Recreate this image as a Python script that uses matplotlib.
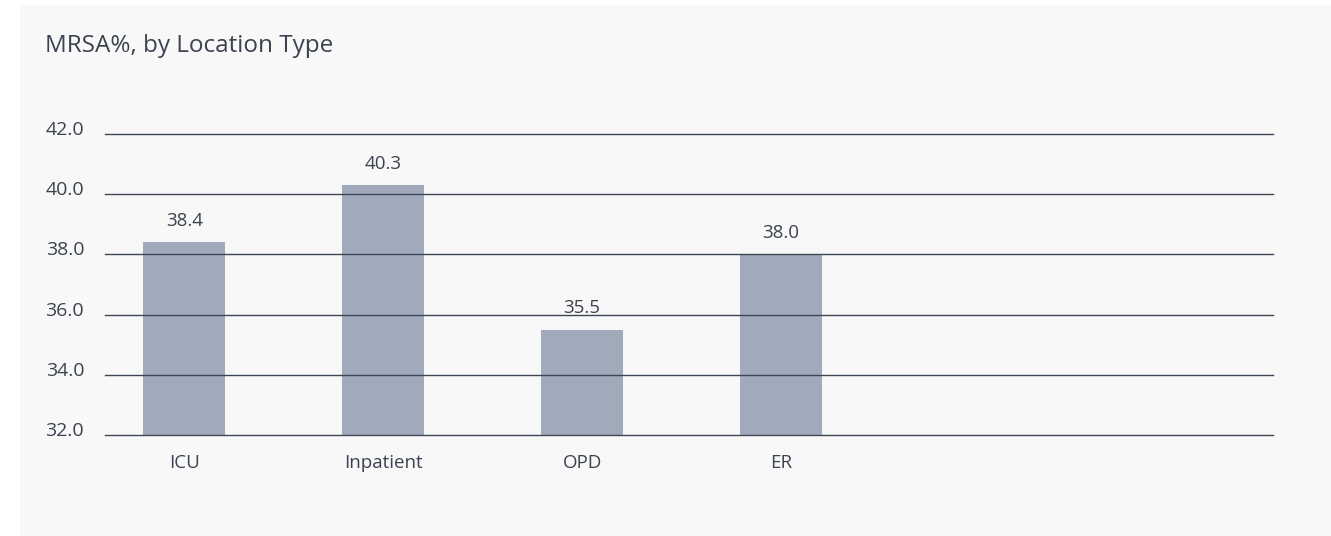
import matplotlib
matplotlib.use("Agg")
import matplotlib.pyplot as plt
from matplotlib.transforms import ScaledTranslation

categories = ["ICU", "Inpatient", "OPD", "ER"]
values = [38.4, 40.3, 35.5, 38.0]
yticks = [32.0, 34.0, 36.0, 38.0, 40.0, 42.0]

W, H = 1331, 536
plt.rcParams["font.family"] = ["Open Sans", "DejaVu Sans"]
fig = plt.figure(figsize=(W / 100, H / 100), dpi=100)
fig.patch.set_facecolor("white")

bg = fig.add_axes([20 / W, 0, 1 - 20 / W, 1 - 5 / H], zorder=0)
bg.set_facecolor("#f8f8f8")
bg.set_xticks([])
bg.set_yticks([])
for s in bg.spines.values():
    s.set_visible(False)

text_color = "#3b4350"
grid_color = "#3d4655"

ax = fig.add_axes([105 / W, 1 - 435 / H, (1273 - 105) / W, (435 - 134) / H], zorder=1)
ax.set_facecolor("none")
x = list(range(len(categories)))
ax.bar(x, values, width=0.412, color="#a1aabb", zorder=1)
ax.set_ylim(32, 42)
ax.set_xlim(-0.399, 5.473)
ax.set_yticks(yticks)
ax.set_yticklabels([f"{v:.1f}" for v in yticks], color=text_color, fontsize=14)
for v in yticks:
    ax.axhline(v, color=grid_color, lw=1.0, zorder=2, clip_on=False)
ax.set_xticks(x)
ax.set_xticklabels(categories, color=text_color, fontsize=13.5)
ax.tick_params(axis="both", length=0)
ax.tick_params(axis="y", pad=15)
ax.tick_params(axis="x", pad=14)
up = ScaledTranslation(0, 6 / 100, fig.dpi_scale_trans)
for lab in ax.get_yticklabels():
    lab.set_transform(lab.get_transform() + up)
for s in ax.spines.values():
    s.set_visible(False)
for xi, v in zip(x, values):
    ax.annotate(f"{v:.1f}", (xi, v), xytext=(0, 9), textcoords="offset points",
                ha="center", va="bottom", color=text_color, fontsize=13.5)

fig.text(45 / W, 1 - 46 / H, "MRSA%, by Location Type", ha="left", va="center",
         color=text_color, fontsize=17.5)

fig.savefig("out.png", dpi=100, facecolor=fig.get_facecolor())
